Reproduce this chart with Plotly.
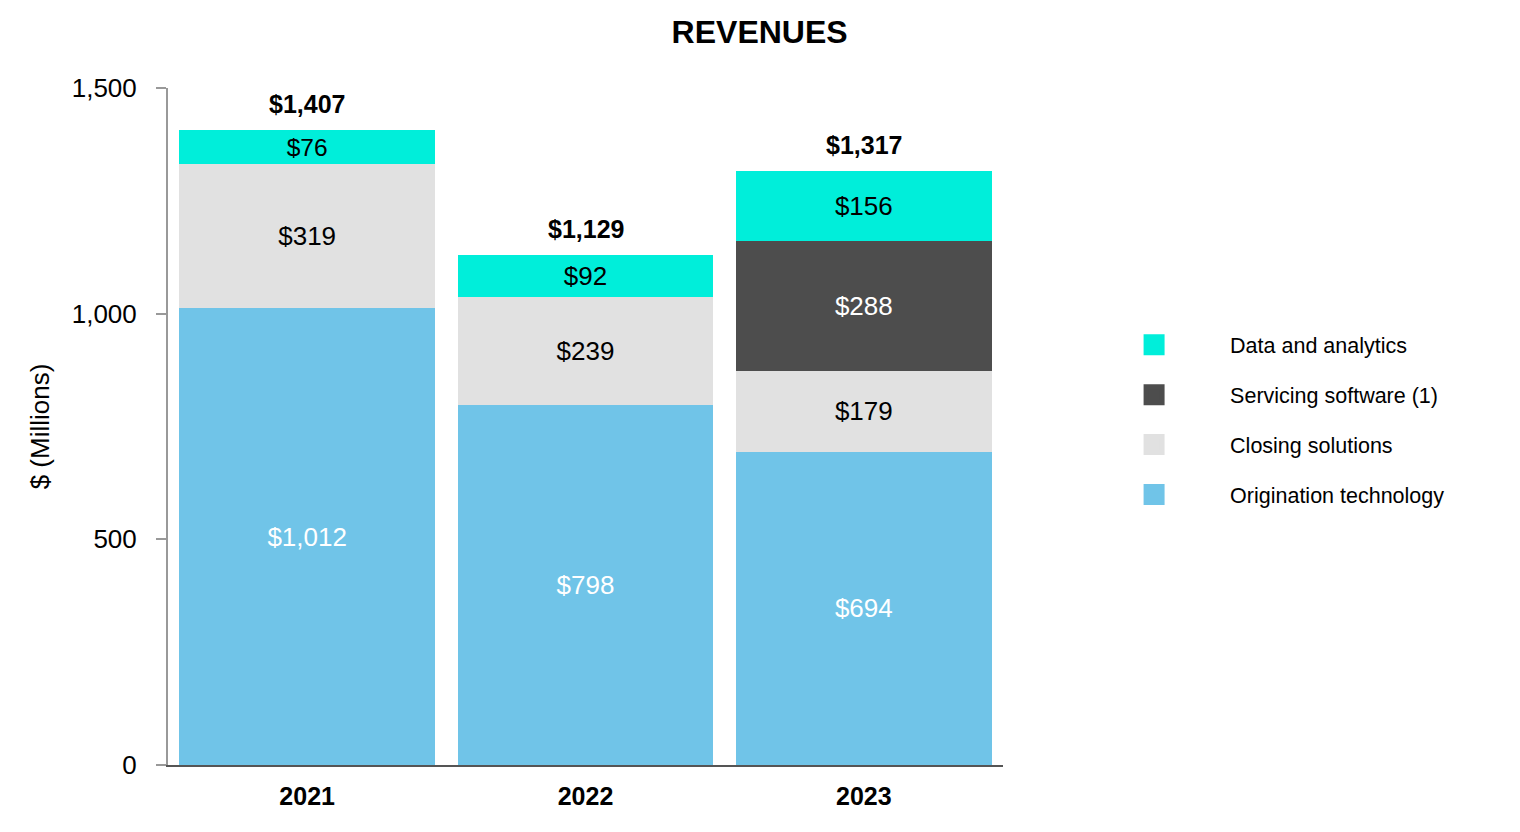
import plotly.graph_objects as go

years = ["2021", "2022", "2023"]
origination = [1012, 798, 694]
closing = [319, 239, 179]
servicing = [None, None, 288]
data_analytics = [76, 92, 156]
totals = [1407, 1129, 1317]
y_ticks = [0, 500, 1000, 1500]
y_tick_labels = ["0", "500", "1,000", "1,500"]

FONT = "Liberation Sans, Arial, sans-serif"

series = [
    ("Origination technology", origination, "#70C4E8", "white", 4),
    ("Closing solutions", closing, "#E1E1E1", "black", 3),
    ("Servicing software (1)", servicing, "#4D4D4D", "white", 2),
    ("Data and analytics", data_analytics, "#00EEDA", "black", 1),
]

fig = go.Figure()
for name, vals, color, tcol, rank in series:
    fig.add_trace(go.Bar(
        x=years, y=vals, name=name, legendgroup=name, showlegend=False,
        marker=dict(color=color, line=dict(width=0)),
        text=[None if v is None else f"${v:,}" for v in vals],
        texttemplate="%{text}",
        textposition="inside", insidetextanchor="middle", textangle=0,
        textfont=dict(family=FONT, size=26, color=tcol),
        hoverinfo="skip",
    ))

# legend-only entries (larger square swatches)
for name, vals, color, tcol, rank in series:
    fig.add_trace(go.Scatter(
        x=[None], y=[None], mode="markers", name=name, legendgroup=name, legendrank=rank,
        marker=dict(symbol="square", size=16, color=color, line=dict(width=5, color=color)),
        hoverinfo="skip", showlegend=True,
    ))

for i, t in enumerate(totals):
    fig.add_annotation(x=i, y=t, xref="x", yref="y", text=f"<b>${t:,}</b>", showarrow=False,
                       yanchor="bottom", yshift=10,
                       font=dict(family=FONT, size=25, color="black"))

fig.update_layout(
    barmode="stack", bargap=0.082,
    width=1520, height=832,
    margin=dict(l=160, r=525, t=80, b=75),
    paper_bgcolor="white", plot_bgcolor="white",
    font=dict(family=FONT, color="black"),
    title=dict(text="<b>REVENUES</b>", x=0.4945, xref="container", xanchor="center",
               y=0.971, yref="container", yanchor="middle",
               font=dict(family=FONT, size=32, color="black")),
    legend=dict(xref="container", x=0.704, xanchor="left", y=0.510, yanchor="middle",
                traceorder="grouped", itemwidth=142, tracegroupgap=19, itemsizing="trace",
                font=dict(family=FONT, size=21.5, color="black"), bgcolor="rgba(0,0,0,0)"),
    xaxis=dict(type="category", range=[-0.5, 2.5], showline=True, linecolor="#555555", linewidth=2,
               ticks="", tickfont=dict(family=FONT, size=25, color="black"),
               ticklabelstandoff=8, tickprefix="<b>", ticksuffix="</b>"),
    yaxis=dict(range=[0, 1500], tickvals=y_ticks, ticktext=y_tick_labels,
               showline=True, linecolor="#999999", linewidth=2, showgrid=False, zeroline=False,
               ticks="outside", ticklen=10, tickcolor="#999999", tickwidth=2,
               ticklabelstandoff=14,
               tickfont=dict(family=FONT, size=26, color="black"),
               title=dict(text="$ (Millions)", standoff=15, font=dict(family=FONT, size=26, color="black"))),
)

fig.write_html("out.html")
